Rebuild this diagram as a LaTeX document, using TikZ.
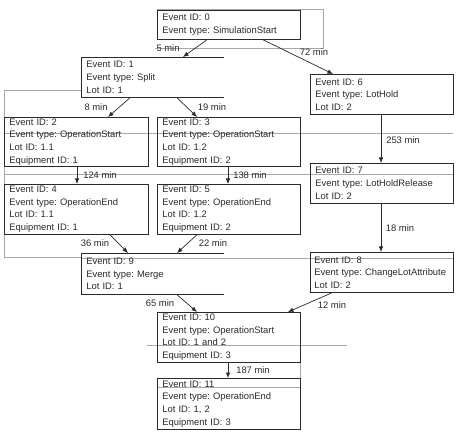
\documentclass[tikz,border=0pt]{standalone}
\usepackage{fontspec}
\newfontfamily\evfont{Liberation Sans}
\usetikzlibrary{arrows.meta}
\definecolor{ink}{HTML}{2A2A2A}
\definecolor{ghost}{HTML}{A8A8A8}
\frenchspacing
\tikzset{
  ebox/.style={draw=ink, line width=0.75pt, anchor=north west, inner xsep=5pt, inner ysep=0pt,
     align=left, text=ink, font={\evfont\fontsize{9.4}{12.6}\selectfont\frenchspacing\hyphenpenalty=10000\exhyphenpenalty=10000}},
  openbox/.style={ebox, draw=none},
  arr/.style={draw=ink, line width=0.7pt, -{Latex[length=5.5pt,width=4.5pt]}},
  lbl/.style={text=ink, inner sep=0pt, font={\evfont\fontsize{9.4}{11}\selectfont}},
  ghostline/.style={draw=ghost, line width=0.6pt},
}
\begin{document}
\begin{tikzpicture}[x=1pt,y=-1pt]
\useasboundingbox[fill=white] (0,0) rectangle (474,438);

% faint stray lines
\draw[ghostline] (157,9) -- (323,9) -- (323,48) -- (155,48);
\draw[ghostline] (81,90) -- (4,90) -- (4,257) -- (81,257);
\draw[ghostline] (4,133) -- (453,133);
\draw[ghostline] (4,174) -- (453,174);
\draw[ghostline] (81,258) -- (453,258);
\draw[ghostline] (147,345) -- (347,345);
\draw[ghostline] (300,362) -- (300,378);
\draw[ghostline] (157,387) -- (300,387);

% boxes
\node[ebox, minimum height=29pt, text width=133pt] (b0) at (157,10) {Event ID: 0\\Event type: SimulationStart};
\node[openbox, minimum height=40pt, text width=132pt] (b1) at (81,57) {Event ID: 1\\Event type: Split\\Lot ID: 1};
\draw[ink, line width=0.75pt] (b1.north east) -- (b1.north west) -- (b1.south west) -- (b1.south east);
\node[ebox, minimum height=40pt, text width=133pt] (b6) at (310,74) {Event ID: 6\\Event type: LotHold\\Lot ID: 2};
\node[ebox, minimum height=49pt, text width=134pt] (b2) at (4,117) {Event ID: 2\\Event type: OperationStart\\Lot ID: 1.1\\Equipment ID: 1};
\node[ebox, minimum height=49pt, text width=133pt] (b3) at (157,117) {Event ID: 3\\Event type: OperationStart\\Lot ID: 1.2\\Equipment ID: 2};
\node[ebox, minimum height=40pt, text width=133pt] (b7) at (310,163) {Event ID: 7\\Event type: LotHoldRelease\\Lot ID: 2};
\node[ebox, minimum height=50pt, text width=134pt] (b4) at (4,184) {Event ID: 4\\Event type: OperationEnd\\Lot ID: 1.1\\Equipment ID: 1};
\node[ebox, minimum height=50pt, text width=133pt] (b5) at (157,184) {Event ID: 5\\Event type: OperationEnd\\Lot ID: 1.2\\Equipment ID: 2};
\node[ebox, minimum height=40pt, text width=133pt, inner xsep=4pt, text width=135pt] (b8) at (310,252) {Event ID: 8\\Event type: ChangeLotAttribute\\Lot ID: 2};
\node[openbox, minimum height=41pt, text width=132pt] (b9) at (81,253) {Event ID: 9\\Event type: Merge\\Lot ID: 1};
\draw[ink, line width=0.75pt] (b9.north east) -- (b9.north west) -- (b9.south west) -- (b9.south east);
\node[ebox, minimum height=50pt, text width=133pt] (b10) at (157,312) {Event ID: 10\\Event type: OperationStart\\Lot ID: 1 and 2\\Equipment ID: 3};
\node[ebox, minimum height=51pt, text width=133pt] (b11) at (157,378) {Event ID: 11\\Event type: OperationEnd\\Lot ID: 1, 2\\Equipment ID: 3};

% connectors
\draw[arr] ([xshift=50pt]b0.south west) -- ([xshift=102pt]b1.north west);
\draw[arr] ([xshift=106pt]b0.south west) -- ([xshift=23pt]b6.north west);
\draw[arr] ([xshift=49pt]b1.south west) -- ([xshift=104pt]b2.north west);
\draw[arr] ([xshift=96pt]b1.south west) -- ([xshift=40pt]b3.north west);
\draw[arr] ([xshift=71pt]b6.south west) -- ([xshift=71pt]b7.north west);
\draw[arr] ([xshift=73pt]b2.south west) -- ([xshift=73pt]b4.north west);
\draw[arr] ([xshift=71pt]b3.south west) -- ([xshift=71pt]b5.north west);
\draw[arr] ([xshift=71pt]b7.south west) -- ([xshift=71pt]b8.north west);
\draw[arr] ([xshift=106pt]b4.south west) -- ([xshift=47pt]b9.north west);
\draw[arr] ([xshift=40pt]b5.south west) -- ([xshift=96pt]b9.north west);
\draw[arr] ([xshift=96pt]b9.south west) -- ([xshift=40pt]b10.north west);
\draw[arr] ([xshift=22pt]b8.south west) -- ([xshift=131pt]b10.north west);
\draw[arr] ([xshift=71pt]b10.south west) -- ([xshift=71pt]b11.north west);

% labels
\node[lbl] (l01) at (168,48) {5 min};
\node[lbl] (l06) at (314,52) {72 min};
\node[lbl] (l12) at (96,107) {8 min};
\node[lbl] (l13) at (212,107) {19 min};
\node[lbl] (l67) at (403,140) {253 min};
\node[lbl] (l24) at (100,175) {124 min};
\node[lbl] (l35) at (250,175) {138 min};
\node[lbl] (l78) at (400,228) {18 min};
\node[lbl] (l49) at (95,243) {36 min};
\node[lbl] (l59) at (213,243) {22 min};
\node[lbl] (l910) at (160,303) {65 min};
\node[lbl] (l810) at (332,305) {12 min};
\node[lbl] (l1011) at (253,370) {187 min};
\end{tikzpicture}
\end{document}
